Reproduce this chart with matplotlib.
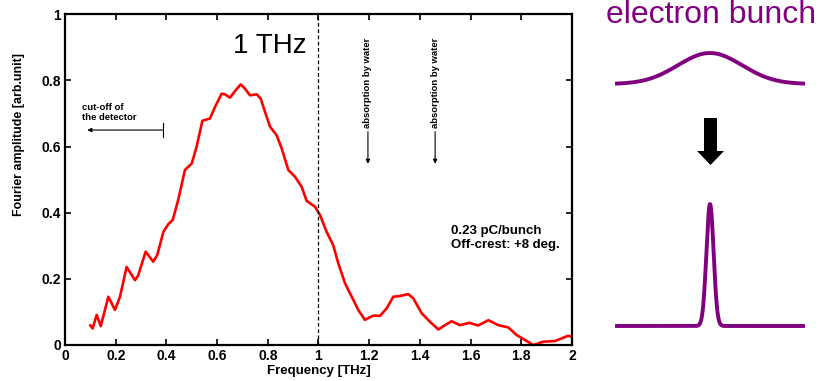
import numpy as np
import matplotlib
matplotlib.use("Agg")
import matplotlib.pyplot as plt

plt.rcParams['font.family'] = ['Liberation Sans', 'DejaVu Sans']

# Spectrum
freq = [0.099, 0.109, 0.125, 0.141, 0.171, 0.197, 0.217, 0.243, 0.276, 0.289,
        0.318, 0.348, 0.364, 0.388, 0.408, 0.425, 0.447, 0.473, 0.500, 0.519,
        0.542, 0.572, 0.592, 0.618, 0.631, 0.651, 0.673, 0.693, 0.710, 0.730,
        0.756, 0.772, 0.789, 0.809, 0.835, 0.855, 0.881, 0.907, 0.934, 0.953,
        0.986, 1.006, 1.032, 1.058, 1.078, 1.105, 1.131, 1.157, 1.183, 1.216,
        1.243, 1.269, 1.295, 1.321, 1.354, 1.374, 1.407, 1.440, 1.473, 1.499,
        1.525, 1.558, 1.595, 1.630, 1.670, 1.709, 1.749, 1.782, 1.815, 1.847,
        1.887, 1.933, 1.959, 1.985, 1.999]
amp = [0.060, 0.050, 0.091, 0.057, 0.146, 0.106, 0.146, 0.236, 0.196, 0.211,
       0.282, 0.252, 0.272, 0.342, 0.366, 0.378, 0.440, 0.529, 0.549, 0.599,
       0.678, 0.685, 0.720, 0.760, 0.758, 0.748, 0.770, 0.788, 0.775, 0.755,
       0.758, 0.745, 0.705, 0.660, 0.634, 0.594, 0.529, 0.509, 0.478, 0.436,
       0.418, 0.393, 0.342, 0.302, 0.247, 0.186, 0.146, 0.106, 0.076, 0.089,
       0.088, 0.111, 0.146, 0.148, 0.154, 0.141, 0.096, 0.070, 0.047, 0.060,
       0.072, 0.060, 0.067, 0.059, 0.075, 0.060, 0.053, 0.030, 0.015, 0.000,
       0.010, 0.012, 0.020, 0.028, 0.025]

xticks = [0, 0.2, 0.4, 0.6, 0.8, 1, 1.2, 1.4, 1.6, 1.8, 2]
xticklabels = ['0', '0.2', '0.4', '0.6', '0.8', '1', '1.2', '1.4', '1.6', '1.8', '2']
yticks = [0, 0.2, 0.4, 0.6, 0.8, 1]
yticklabels = ['0', '0.2', '0.4', '0.6', '0.8', '1']

W, H = 829, 381
fig = plt.figure(figsize=(W / 100, H / 100), dpi=100)
ax = fig.add_axes([65 / W, 1 - 345 / H, (572 - 65) / W, (345 - 14.3) / H])

ax.plot(freq, amp, color='#ff0000', lw=1.9, solid_joinstyle='round',
        solid_capstyle='round', clip_on=False)
ax.axvline(1.0, color='black', lw=0.9, ls=(0, (3, 2)))
ax.set_xlim(0, 2)
ax.set_ylim(0, 1)
ax.set_xticks(xticks)
ax.set_xticklabels(xticklabels, fontsize=10, fontweight='bold')
ax.set_yticks(yticks)
ax.set_yticklabels(yticklabels, fontsize=10, fontweight='bold')
ax.tick_params(direction='in', length=4, width=1.2, top=True, right=True, pad=3)
for s in ax.spines.values():
    s.set_linewidth(1.6)
ax.set_xlabel('Frequency [THz]', fontsize=9.5, fontweight='bold', labelpad=1)
ax.set_ylabel('Fourier amplitude [arb.unit]', fontsize=8.9, fontweight='bold')
ax.yaxis.set_label_coords(-0.079, 0.636)

ax.text(0.955, 0.882, '1 THz', fontsize=20, ha='right', va='baseline')
ax.text(0.067, 0.733, 'cut-off of\nthe detector', fontsize=6.8, fontweight='bold',
        va='top', ha='left', linespacing=1.2)
ax.annotate('', xy=(0.088, 0.650), xytext=(0.387, 0.650),
            arrowprops=dict(arrowstyle='-|>', lw=0.8, color='black',
                            mutation_scale=6, shrinkA=0, shrinkB=0))
ax.plot([0.387, 0.387], [0.630, 0.670], color='black', lw=0.8)

for xa in (1.195, 1.46):
    ax.text(xa, 0.793, 'absorption by water', rotation=90, fontsize=6.8,
            fontweight='bold', ha='center', va='center')
    ax.annotate('', xy=(xa, 0.548), xytext=(xa, 0.645),
                arrowprops=dict(arrowstyle='-|>', lw=0.8, color='black',
                                mutation_scale=6, shrinkA=0, shrinkB=0))

ax.text(1.523, 0.362, '0.23 pC/bunch\nOff-crest: +8 deg.', fontsize=9.5,
        fontweight='bold', va='top', ha='left', linespacing=1.2)

# Right-hand schematic, in pixel coordinates
ax2 = fig.add_axes([600 / W, 0, (W - 600) / W, 1])
ax2.set_xlim(600, W)
ax2.set_ylim(H, 0)
ax2.axis('off')
purple = '#800080'
ax2.text(711, 23, 'electron bunch', fontsize=23, color=purple, ha='center', va='baseline')

x0, x1, xc = 617, 803, 710
xs = np.linspace(x0, x1, 600)
broad_sigma, broad_base, broad_peak = 32, 84, 53
ax2.plot(xs, broad_base - (broad_base - broad_peak) * np.exp(-0.5 * ((xs - xc) / broad_sigma) ** 2),
         color=purple, lw=2.8)
narrow_sigma, narrow_base, narrow_peak = 3.6, 326, 204
ax2.plot(xs, narrow_base - (narrow_base - narrow_peak) * np.exp(-0.5 * ((xs - xc) / narrow_sigma) ** 2),
         color=purple, lw=2.8)

ax2.fill([704, 717, 717, 724, 710.5, 697, 704],
         [118, 118, 151, 151, 165, 151, 151], color='black', lw=0)

fig.savefig('out.png', dpi=100)
